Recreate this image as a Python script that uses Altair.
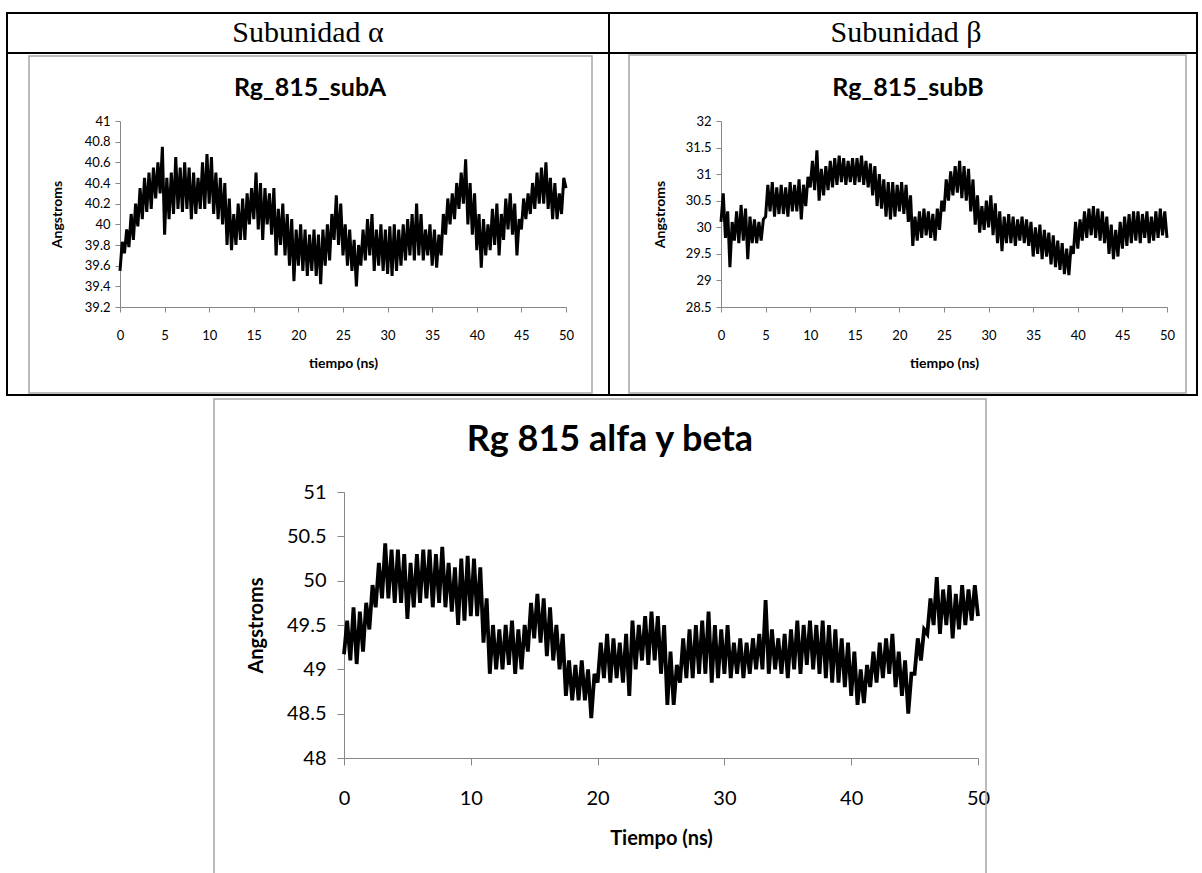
import altair as alt
import pandas as pd

sub_a = [
    39.55, 39.83, 39.72, 39.95, 39.78, 40.10, 39.85, 40.20, 39.98, 40.35,
    40.05, 40.45, 40.12, 40.50, 40.15, 40.55, 40.25, 40.60, 40.30, 40.75,
    39.90, 40.45, 40.05, 40.50, 40.10, 40.65, 40.15, 40.55, 40.12, 40.60,
    40.15, 40.55, 40.05, 40.50, 40.10, 40.45, 40.15, 40.60, 40.15, 40.68,
    40.20, 40.65, 40.10, 40.50, 40.05, 40.45, 40.00, 40.40, 39.80, 40.25,
    39.75, 40.10, 39.80, 40.20, 39.85, 40.25, 39.85, 40.30, 40.00, 40.35,
    40.05, 40.50, 39.95, 40.40, 39.85, 40.35, 40.00, 40.30, 39.90, 40.35,
    39.70, 40.15, 39.80, 40.20, 39.70, 40.10, 39.60, 40.05, 39.45, 39.95,
    39.60, 40.00, 39.55, 39.95, 39.50, 39.90, 39.55, 39.95, 39.50, 39.90,
    39.42, 39.95, 39.60, 40.00, 39.65, 40.10, 39.85, 40.28, 39.80, 40.20,
    39.70, 40.00, 39.60, 39.95, 39.55, 39.85, 39.40, 39.80, 39.60, 39.95,
    39.65, 40.05, 39.70, 40.10, 39.55, 39.95, 39.60, 40.00, 39.55, 39.95,
    39.52, 39.98, 39.50, 40.00, 39.55, 39.95, 39.60, 40.00, 39.65, 40.05,
    39.70, 40.10, 39.65, 40.20, 39.70, 40.10, 39.65, 39.95, 39.70, 40.00,
    39.60, 39.95, 39.58, 39.90, 39.70, 40.10, 39.90, 40.25, 40.00, 40.30,
    40.05, 40.40, 40.15, 40.50, 40.20, 40.63, 40.00, 40.40, 39.90, 40.30,
    39.75, 40.10, 39.58, 40.05, 39.70, 40.00, 39.75, 40.15, 39.80, 40.20,
    39.70, 40.10, 39.85, 40.25, 39.95, 40.30, 39.90, 40.20, 39.70, 40.05,
    39.95, 40.25, 40.05, 40.30, 40.10, 40.40, 40.15, 40.50, 40.20, 40.55,
    40.20, 40.60, 40.15, 40.45, 40.05, 40.40, 40.05, 40.30, 40.10, 40.45,
    40.35,
]

sub_b = [
    30.10, 30.64, 29.80, 30.30, 29.25, 30.10, 29.75, 30.30, 29.70, 30.42,
    29.75, 30.35, 29.40, 30.20, 29.70, 30.15, 29.70, 30.10, 29.75, 30.15,
    30.20, 30.80, 30.30, 30.85, 30.20, 30.75, 30.25, 30.80, 30.25, 30.75,
    30.20, 30.85, 30.30, 30.80, 30.30, 30.90, 30.15, 30.80, 30.40, 30.95,
    30.75, 31.25, 30.70, 31.45, 30.50, 31.10, 30.60, 31.15, 30.70, 31.25,
    30.75, 31.30, 30.80, 31.35, 30.85, 31.30, 30.80, 31.25, 30.85, 31.30,
    30.80, 31.30, 30.85, 31.35, 30.80, 31.25, 30.75, 31.20, 30.60, 31.15,
    30.40, 31.00, 30.35, 30.90, 30.20, 30.85, 30.15, 30.85, 30.20, 30.80,
    30.30, 30.85, 30.25, 30.80, 30.10, 30.60, 29.65, 30.20, 29.75, 30.30,
    29.80, 30.35, 29.85, 30.30, 29.80, 30.25, 29.75, 30.35, 29.95, 30.50,
    30.30, 30.90, 30.50, 31.05, 30.60, 31.15, 30.65, 31.25, 30.55, 31.15,
    30.50, 31.10, 30.30, 30.90, 30.05, 30.60, 29.90, 30.40, 29.95, 30.50,
    30.00, 30.60, 29.85, 30.45, 29.70, 30.30, 29.55, 30.20, 29.70, 30.25,
    29.70, 30.20, 29.65, 30.15, 29.75, 30.20, 29.70, 30.15, 29.65, 30.10,
    29.45, 30.00, 29.50, 30.05, 29.40, 29.95, 29.45, 29.90, 29.30, 29.85,
    29.25, 29.75, 29.20, 29.70, 29.12, 29.60, 29.10, 29.65, 29.50, 30.10,
    29.60, 30.15, 29.75, 30.30, 29.80, 30.35, 29.85, 30.40, 29.80, 30.35,
    29.75, 30.30, 29.70, 30.20, 29.50, 30.05, 29.40, 29.95, 29.45, 30.10,
    29.60, 30.20, 29.65, 30.25, 29.70, 30.30, 29.75, 30.30, 29.70, 30.25,
    29.80, 30.30, 29.70, 30.20, 29.75, 30.30, 29.80, 30.35, 29.85, 30.30,
    29.80,
]

alfa_beta = [
    49.17, 49.55, 49.10, 49.70, 49.06, 49.65, 49.20, 49.75, 49.45, 49.95,
    49.70, 50.20, 49.80, 50.42, 49.80, 50.35, 49.75, 50.35, 49.75, 50.30,
    49.57, 50.20, 49.70, 50.30, 49.75, 50.35, 49.80, 50.35, 49.70, 50.30,
    49.75, 50.38, 49.70, 50.20, 49.65, 50.15, 49.50, 50.25, 49.55, 50.28,
    49.60, 50.25, 49.60, 50.15, 49.30, 49.80, 48.95, 49.50, 49.00, 49.45,
    49.00, 49.50, 49.05, 49.55, 48.95, 49.45, 49.00, 49.50, 49.20, 49.75,
    49.35, 49.85, 49.30, 49.80, 49.15, 49.70, 49.10, 49.50, 49.00, 49.40,
    48.70, 49.10, 48.65, 49.05, 48.65, 49.10, 48.65, 49.00, 48.45, 48.95,
    48.85, 49.30, 48.90, 49.40, 48.85, 49.35, 48.90, 49.30, 48.85, 49.40,
    48.70, 49.55, 49.00, 49.50, 49.10, 49.60, 49.05, 49.65, 49.10, 49.60,
    48.95, 49.50, 48.60, 49.20, 48.60, 49.05, 48.85, 49.35, 48.90, 49.45,
    48.90, 49.50, 48.95, 49.55, 48.95, 49.65, 48.85, 49.50, 48.90, 49.45,
    48.95, 49.50, 48.90, 49.30, 48.95, 49.35, 48.90, 49.30, 48.95, 49.35,
    49.00, 49.40, 49.00, 49.78, 48.95, 49.45, 49.00, 49.35, 48.95, 49.40,
    48.90, 49.45, 49.00, 49.55, 48.95, 49.50, 49.05, 49.55, 49.00, 49.50,
    48.95, 49.55, 48.90, 49.50, 48.85, 49.45, 48.85, 49.35, 48.80, 49.30,
    48.70, 49.20, 48.60, 49.00, 48.62, 49.05, 48.80, 49.20, 48.85, 49.30,
    48.90, 49.35, 48.95, 49.40, 48.80, 49.20, 48.70, 49.10, 48.50, 48.95,
    48.95, 49.35, 49.10, 49.45, 49.40, 49.80, 49.50, 50.04, 49.40, 49.90,
    49.50, 49.95, 49.35, 49.85, 49.45, 49.95, 49.50, 49.90, 49.55, 49.95,
    49.60,
]

ticks_a_y = [39.2, 39.4, 39.6, 39.8, 40, 40.2, 40.4, 40.6, 40.8, 41]
ticks_b_y = [28.5, 29, 29.5, 30, 30.5, 31, 31.5, 32]
ticks_c_y = [48, 48.5, 49, 49.5, 50, 50.5, 51]
ticks_top_x = [0, 5, 10, 15, 20, 25, 30, 35, 40, 45, 50]
ticks_c_x = [0, 10, 20, 30, 40, 50]

T_END = 50


def frame(values):
    n = len(values)
    return pd.DataFrame({"t": [i * T_END / (n - 1) for i in range(n)], "v": values})


W, H = 1202, 873
FONT = "Lato"
AX = "#878787"


def panel(values, sw, xr, yr, ydom, yvals, xvals, xoff, yoff, lab, tsize, lpad_x, lpad_y,
          tfs, tx_x, tx_y, ty_x, ty_y, xtitle):
    return alt.Chart(frame(values)).mark_line(
        color="black", strokeWidth=sw, strokeJoin="miter", strokeMiterLimit=3
    ).encode(
        x=alt.X("t:Q",
                scale=alt.Scale(domain=[0, T_END], range=xr, nice=False, zero=False),
                axis=alt.Axis(orient="bottom", offset=xoff, values=xvals, format="~f",
                              grid=False, domainColor=AX, tickColor=AX, tickSize=tsize,
                              labelFont=FONT, labelFontSize=lab, labelColor="black",
                              labelBaseline="middle", labelPadding=lpad_x,
                              title=xtitle, titleFont=FONT, titleFontSize=tfs,
                              titleFontWeight="bold", titleColor="black",
                              titleX=tx_x, titleY=tx_y, titleAlign="center",
                              titleBaseline="middle", labelFlush=False)),
        y=alt.Y("v:Q",
                scale=alt.Scale(domain=ydom, range=yr, nice=False, zero=False),
                axis=alt.Axis(orient="left", offset=yoff, values=yvals, format="~f",
                              grid=False, domainColor=AX, tickColor=AX, tickSize=tsize,
                              labelFont=FONT, labelFontSize=lab, labelColor="black",
                              labelPadding=lpad_y, labelFlush=False,
                              title="Angstroms", titleFont=FONT, titleFontSize=tfs,
                              titleFontWeight="bold", titleColor="black",
                              titleX=ty_x, titleY=ty_y, titleAngle=270,
                              titleAlign="center", titleBaseline="middle")),
    )


A = panel(sub_a, 3.0, [120, 566], [307, 121], [39.2, 41], ticks_a_y, ticks_top_x,
          307 - H, -120, 13, 5, 23, 5, 14, 343, 56, -63, 214, "tiempo (ns)")
B = panel(sub_b, 3.0, [721, 1167], [307, 121], [28.5, 32], ticks_b_y, ticks_top_x,
          307 - H, -721, 13, 5, 23, 5, 14, 944, 56, -61, 214, "tiempo (ns)")
C = panel(alfa_beta, 3.8, [344, 978], [758, 492], [48, 51], ticks_c_y, ticks_c_x,
          758 - H, -344, 20, 7, 33, 11, 20, 661, 80, -88, 625, "Tiempo (ns)")

one = pd.DataFrame({"k": [0]})
base = alt.Chart(one)


def box(x, x2, y, y2, color, sw):
    return base.mark_rect(filled=False, stroke=color, strokeWidth=sw).encode(
        x=alt.value(x), x2=alt.value(x2), y=alt.value(y), y2=alt.value(y2))


def rule(x, x2, y, y2, color="black", sw=2):
    return base.mark_rule(color=color, strokeWidth=sw).encode(
        x=alt.value(x), x2=alt.value(x2), y=alt.value(y), y2=alt.value(y2))


def label(txt, x, y, font, size, weight="normal"):
    return base.mark_text(text=txt, font=font, fontSize=size, fontWeight=weight,
                          color="black", align="center", baseline="middle").encode(
        x=alt.value(x), y=alt.value(y))


deco = [
    box(7, 1197, 13, 395, "black", 2),
    rule(7, 1197, 53, 53),
    rule(609, 609, 13, 395),
    box(29, 592, 56, 393, "#a6a6a6", 1.5),
    box(629, 1186, 55, 393, "#a6a6a6", 1.5),
    box(214, 986, 399, 890, "#a6a6a6", 1.5),
    label("Subunidad \u03b1", 308, 33, "Liberation Serif", 30),
    label("Subunidad \u03b2", 906, 33, "Liberation Serif", 30),
    label("Rg_815_subA", 310, 88, FONT, 25, "bold"),
    label("Rg_815_subB", 908, 88, FONT, 25, "bold"),
    label("Rg 815 alfa y beta", 610, 440, FONT, 36, "bold"),
]

chart = alt.layer(*deco, A, B, C).resolve_scale(
    x="independent", y="independent"
).resolve_axis(
    x="independent", y="independent"
).properties(
    width=W, height=H,
    autosize=alt.AutoSizeParams(type="none"),
    padding=0,
    background="white",
).configure_view(stroke=None)

chart.save("out.html", embed_options={"renderer": "svg", "actions": False})
